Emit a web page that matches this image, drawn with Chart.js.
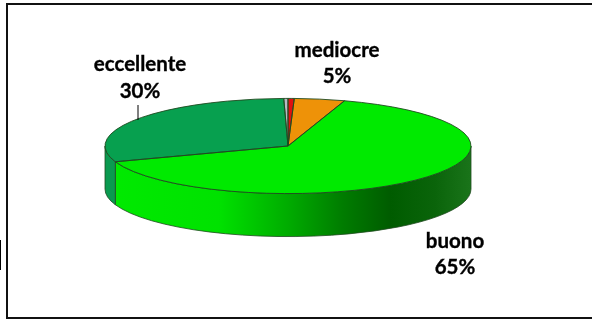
<!DOCTYPE html>
<html>
<head>
<meta charset="utf-8">
<title>Giudizio</title>
<script src="https://cdn.jsdelivr.net/npm/chart.js@4/dist/chart.umd.min.js"></script>
<style>
  html, body { margin: 0; padding: 0; background: #fff; overflow: hidden; }
  #wrap { position: relative; width: 592px; height: 320px; }
  #frame { position: absolute; left: 6px; top: 3px; width: 586px; height: 316px; box-sizing: border-box; border: 2px solid #111; border-right: 0; }
  #stub { position: absolute; left: 0; top: 240px; width: 1px; height: 30px; background: #000; }
  canvas { position: absolute; left: 0; top: 0; }
</style>
</head>
<body>
<div id="wrap">
  <div id="frame"></div>
  <div id="stub"></div>
  <canvas id="pie" width="592" height="320"></canvas>
</div>
<script>
// ── DATA ─────────────────────────────────────────
// clockwise from the green/orange edge; the two slivers have no label in the picture
const CATEGORIES = ["buono", "eccellente", "", "", "mediocre"];
const VALUES     = [64.6, 30.0, 0.37, 0.55, 4.45];
const LABELS     = ["65%", "30%", "", "", "5%"];

const COLORS = ["#00ea00", "#07a04f", "#b9b9c4", "#e01010", "#ee9208"];
const WALLS  = ["#00ea00", "#0a9a50", "#b9b9c4", "#e01010", "#ee9208"];

// ── 3D LOOK ──────────────────────────────────────
const SQUASH = 0.26;
const DEPTH  = 43;
const EDGE   = "#1f4a1f";

// only the front half of the rim is visible
function wallPiece(ctx, x, y, r, a0, a1) {
  const s = Math.max(a0, 0), e = Math.min(a1, Math.PI);
  if (e <= s) return false;
  ctx.beginPath();
  ctx.ellipse(x, y, r, r * SQUASH, 0, s, e, false);
  ctx.ellipse(x, y + DEPTH, r, r * SQUASH, 0, e, s, true);
  ctx.closePath();
  return true;
}

function label(ctx, text, x, y) {
  ctx.fillText(text, x, y);
  ctx.strokeText(text, x, y); // the original face is a bit heavier than Lato bold
}

const pie3d = {
  id: "pie3d",
  beforeDatasetsDraw(chart) {
    const ctx = chart.ctx;
    const arcs = chart.getDatasetMeta(0).data;
    const { x, y, outerRadius: r } = arcs[0];

    arcs.forEach((arc, i) => {
      if (!wallPiece(ctx, x, y, r, arc.startAngle, arc.endAngle)) return;
      if (i === 0) {
        const g = ctx.createLinearGradient(x - r, 0, x + r, 0);
        g.addColorStop(0, "#00ea00");
        g.addColorStop(0.31, "#00e200");
        g.addColorStop(0.5, "#00ac00");
        g.addColorStop(0.65, "#007c00");
        g.addColorStop(0.78, "#005c00");
        g.addColorStop(0.9, "#0a640a");
        g.addColorStop(1, "#1a741a");
        ctx.fillStyle = g;
      } else {
        ctx.fillStyle = WALLS[i];
      }
      ctx.fill();
      ctx.strokeStyle = EDGE;
      ctx.lineWidth = 0.8;
      ctx.stroke();
    });

    // squash the round pie the library is about to draw
    ctx.save();
    ctx.translate(x, y);
    ctx.scale(1, SQUASH);
    ctx.translate(-x, -y);
  },
  afterDatasetsDraw(chart) {
    const ctx = chart.ctx;
    ctx.restore();
    const arcs = chart.getDatasetMeta(0).data;
    const { x, y, outerRadius: r } = arcs[0];

    ctx.strokeStyle = EDGE;
    ctx.lineWidth = 0.9;
    arcs.forEach(arc => {
      ctx.beginPath();
      ctx.moveTo(x, y);
      ctx.ellipse(x, y, r, r * SQUASH, 0, arc.startAngle, arc.endAngle);
      ctx.closePath();
      ctx.stroke();
    });

    // labels
    ctx.fillStyle = "#000";
    ctx.strokeStyle = "#000";
    ctx.lineWidth = 0.35;
    ctx.textAlign = "center";
    ctx.textBaseline = "alphabetic";
    ctx.font = "bold 20.5px Lato";
    label(ctx, CATEGORIES[1], 140, 71);
    label(ctx, LABELS[1], 140, 98);
    label(ctx, CATEGORIES[4], 337, 57);
    label(ctx, LABELS[4], 337, 83);
    label(ctx, CATEGORIES[0], 455, 248);
    label(ctx, LABELS[0], 455, 274);

    // leader line of eccellente
    ctx.lineWidth = 1;
    ctx.beginPath();
    ctx.moveTo(138, 105);
    ctx.lineTo(138, 120);
    ctx.stroke();
  }
};

// ── CHART ────────────────────────────────────────
new Chart(document.getElementById("pie"), {
  type: "pie",
  data: {
    labels: CATEGORIES,
    datasets: [{
      data: VALUES,
      backgroundColor: COLORS,
      borderWidth: 0,
      clip: false,
    }],
  },
  options: {
    responsive: false,
    animation: false,
    rotation: 18,
    radius: 183,
    layout: { padding: { right: 16, bottom: 28 } },
    plugins: {
      legend: { display: false },
      tooltip: { enabled: false },
    },
  },
  plugins: [pie3d],
});
</script>
</body>
</html>
